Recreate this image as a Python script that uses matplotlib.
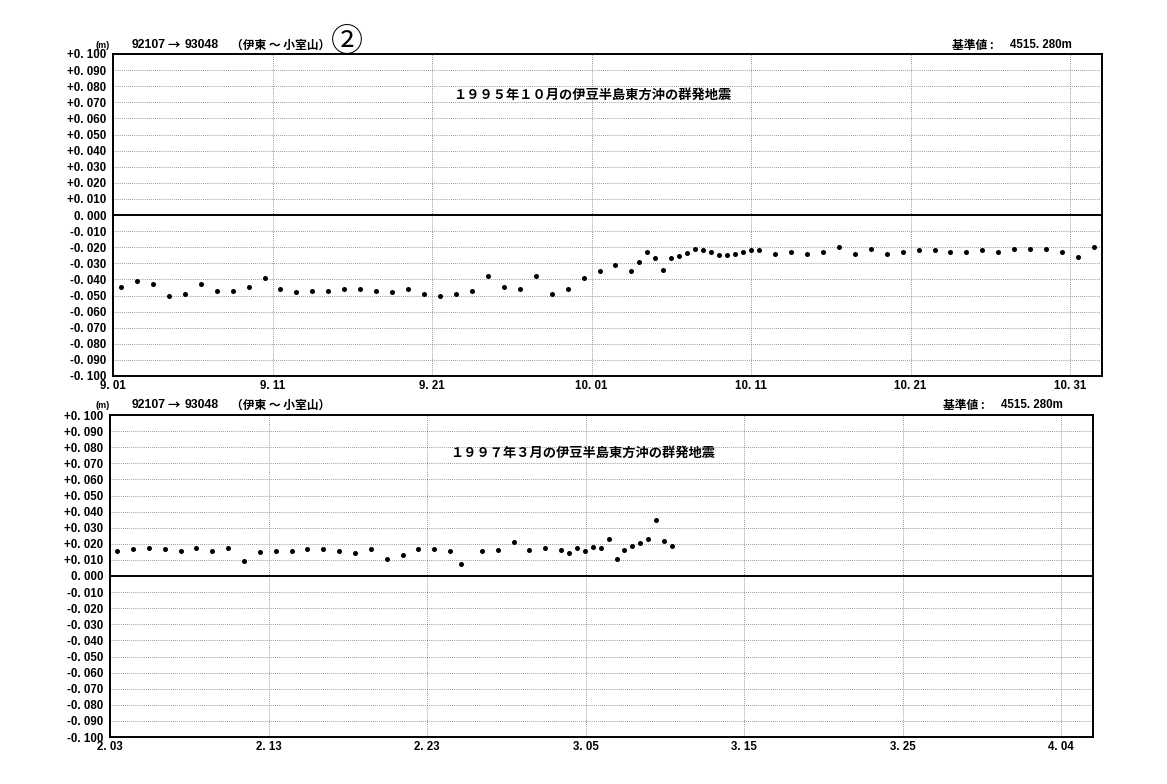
import numpy as np
import matplotlib
matplotlib.use('Agg')
import matplotlib.pyplot as plt
from matplotlib import font_manager

JP = ['Noto Sans CJK JP', 'DejaVu Sans']
Names = set(f.name for f in font_manager.fontManager.ttflist)
if 'Liberation Sans Narrow' in Names:
    NUM = ['Liberation Sans Narrow']
    NumSize = 9
else:
    NUM = ['Liberation Sans', 'DejaVu Sans']
    NumSize = 8.3

# 1995 Sep-Oct : days since 9.01
Days95 = np.concatenate([np.arange(0.5, 32.0, 1.0),
                         np.arange(32.5, 41.0, 0.5),
                         np.arange(41.5, 62.0, 1.0)])
Val95 = [-0.045, -0.041, -0.043, -0.050, -0.049, -0.043, -0.047, -0.047,
         -0.045, -0.039, -0.046, -0.048, -0.047, -0.047, -0.046, -0.046,
         -0.047, -0.048, -0.046, -0.049, -0.050, -0.049, -0.047, -0.038,
         -0.045, -0.046, -0.038, -0.049, -0.046, -0.039, -0.035, -0.031,
         # half-day readings
         -0.035, -0.029, -0.023, -0.027, -0.034, -0.027, -0.0256, -0.0237,
         -0.021, -0.022, -0.023, -0.025, -0.025, -0.024, -0.023, -0.022,
         -0.022,
         -0.024, -0.023, -0.024, -0.023, -0.020, -0.024, -0.021, -0.024,
         -0.023, -0.022, -0.022, -0.023, -0.023, -0.022, -0.023, -0.021,
         -0.021, -0.021, -0.023, -0.026, -0.020]
Ticks95 = ['9. 01', '9. 11', '9. 21', '10. 01', '10. 11', '10. 21', '10. 31']

# 1997 Feb-Mar : days since 2.03
Days97 = list(np.arange(0.45, 22.0, 1.0)) + [22.15, 23.45, 24.45, 25.45, 26.45,
         27.45, 28.45, 28.95, 29.45, 29.95, 30.45, 30.95, 31.45, 31.95,
         32.45, 32.95, 33.45, 33.95, 34.45, 34.95, 35.45]
Val97 = [0.0156, 0.0165, 0.0175, 0.0165, 0.0154, 0.0175, 0.0156, 0.0175,
         0.0094, 0.0146, 0.0156, 0.0154, 0.0165, 0.0165, 0.0154, 0.0144,
         0.0165, 0.0106, 0.0131, 0.0165, 0.0165, 0.0156,
         0.0075, 0.0156, 0.0164, 0.0213, 0.0164, 0.0173, 0.0164, 0.0145,
         0.0173, 0.0156, 0.0183, 0.0173, 0.0232, 0.0107, 0.0160, 0.0187,
         0.0202, 0.0232, 0.0347, 0.0217, 0.0187]
Ticks97 = ['2. 03', '2. 13', '2. 23', '3. 05', '3. 15', '3. 25', '4. 04']

YTicks = np.round(np.arange(-0.1, 0.1001, 0.01), 3)
YLabels = []
for v in YTicks:
    s = '%.3f' % abs(v)
    s = s.replace('.', '. ')
    if v > 0.0001:
        s = '+' + s
    elif v < -0.0001:
        s = '-' + s
    YLabels.append(s)

W, H = 1167, 784
fig = plt.figure(figsize=(W / 100, H / 100), dpi=100)


def px(x, y):
    return x / W, 1 - y / H


def DrawPanel(rect, Days, Vals, Ticks, Title, TitleXY):
    ax = fig.add_axes(rect)
    ax.set_xlim(0, 62)
    ax.set_ylim(-0.1, 0.1)
    for v in YTicks:
        if abs(v) < 1e-6 or abs(abs(v) - 0.1) < 1e-6:
            continue
        ax.axhline(v, color='#777777', linestyle=(0, (1, 1.5)), linewidth=0.6, zorder=1)
    for d in range(10, 61, 10):
        ax.axvline(d, color='#777777', linestyle=(0, (1, 1.5)), linewidth=0.6, zorder=1)
    ax.axhline(0, color='black', linewidth=1.4, zorder=2)
    ax.scatter(Days, Vals, s=13, color='black', zorder=3, linewidths=0)
    ax.set_xticks(range(0, 61, 10))
    ax.set_xticklabels(Ticks, family=NUM, weight='bold', fontsize=NumSize)
    ax.set_yticks(YTicks)
    ax.set_yticklabels(YLabels, family=NUM, weight='bold', fontsize=NumSize)
    ax.tick_params(axis='y', length=0, pad=5)
    ax.tick_params(axis='x', length=0, pad=3)
    for sp in ax.spines.values():
        sp.set_linewidth(1.4)
    ax.text(*TitleXY, Title, transform=fig.transFigure, family=JP, weight='bold',
            fontsize=9.5, ha='left', va='center')
    return ax


DrawPanel([113 / W, 1 - 376 / H, 989 / W, 322 / H], Days95, Val95, Ticks95,
          '１９９５年１０月の伊豆半島東方沖の群発地震', px(453, 95))
DrawPanel([110 / W, 1 - 737 / H, 983 / W, 322 / H], Days97, Val97, Ticks97,
          '１９９７年３月の伊豆半島東方沖の群発地震', px(450, 453))

# headers
for y0, kx in [(45, 952), (405, 943)]:
    fig.text(*px(95, y0), '(m)', family=NUM, weight='bold', fontsize=6.5, va='center')
    fig.text(*px(132, y0), '92107', family=NUM, weight='bold', fontsize=NumSize + 0.5, va='center')
    fig.text(*px(174, y0), '→', family=JP, weight='bold', fontsize=9, ha='center', va='center')
    fig.text(*px(185, y0), '93048', family=NUM, weight='bold', fontsize=NumSize + 0.5, va='center')
    fig.text(*px(231, y0), '（伊東 ～ 小室山）', family=JP, weight='bold', fontsize=8.5, va='center')
    fig.text(*px(kx, y0), '基準値 :', family=JP, weight='bold', fontsize=8.5, va='center')
    fig.text(*px(kx + 58, y0), '4515. 280m', family=NUM, weight='bold', fontsize=NumSize, va='center')

fig.text(*px(347, 42), '②', family=JP, fontsize=23, ha='center', va='center')

plt.savefig('out.png', dpi=100)
plt.close()
